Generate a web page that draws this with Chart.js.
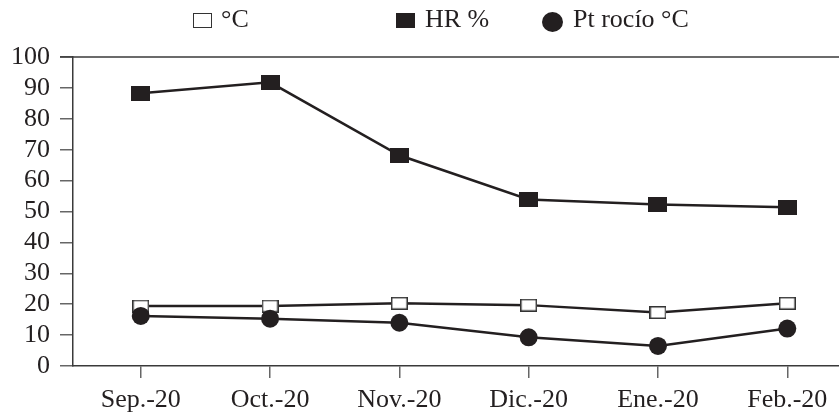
<!DOCTYPE html>
<html lang="es">
<head>
    <meta charset="UTF-8">
    <title>Temperatura, HR y punto de rocío</title>
    <style>
        body { margin: 0; background: #fff; }
        #wrap { position: relative; width: 839px; height: 412px; }
        #legend { position: absolute; left: 0; top: 0; width: 839px; height: 40px;
                  font-family: "Liberation Serif", "Times New Roman", serif; font-size: 26px; color: #231f20; }
        #legend .txt { position: absolute; top: 4px; line-height: 30px; white-space: nowrap; }
        #legend .sym { position: absolute; box-sizing: border-box; }
    </style>
</head>
<body>

    <div id="wrap">
        <canvas id="chart"></canvas>
        <div id="legend"></div>
    </div>

    <script src="https://cdn.jsdelivr.net/npm/chart.js"></script>
    <script>
        // Datos
        const meses = ['Sep.-20', 'Oct.-20', 'Nov.-20', 'Dic.-20', 'Ene.-20', 'Feb.-20'];
        const temperatura = [19.4, 19.4, 20.3, 19.7, 17.3, 20.3];
        const humedad = [88.3, 91.8, 68.2, 53.9, 52.3, 51.4];
        const rocio = [16.2, 15.3, 14.0, 9.3, 6.5, 12.1];
        const yTicks = [0, 10, 20, 30, 40, 50, 60, 70, 80, 90, 100];

        const etiquetas = ['°C', 'HR %', 'Pt rocío °C'];

        const ink = '#231f20';
        const toXY = arr => arr.map((v, i) => ({ x: i, y: v }));

        // marcadores rectangulares (un poco más anchos que altos)
        function marcador(w, h, fill, stroke, lw) {
            const c = document.createElement('canvas');
            c.width = w; c.height = h;
            const g = c.getContext('2d');
            g.fillStyle = stroke;
            g.fillRect(0, 0, w, h);
            if (fill !== stroke) {
                g.fillStyle = fill;
                g.fillRect(lw, lw, w - 2 * lw, h - 2 * lw);
            }
            return c;
        }
        const cuadroBlanco = marcador(17, 13, '#fff', '#333', 1.5);
        const cuadroNegro = marcador(19, 15, ink, ink, 0);

        // línea superior del marco
        const topLine = {
            id: 'topLine',
            afterDraw(chart) {
                const { ctx, chartArea } = chart;
                ctx.save();
                ctx.strokeStyle = '#3a3a3a';
                ctx.lineWidth = 1.5;
                ctx.beginPath();
                ctx.moveTo(chartArea.left - 13, chartArea.top);
                ctx.lineTo(chart.width, chartArea.top);
                ctx.stroke();
                ctx.restore();
            }
        };

        const fuente = { family: '"Liberation Serif", "Times New Roman", serif', size: 26 };

        const ctx = document.getElementById('chart').getContext('2d');
        const chart = new Chart(ctx, {
            type: 'line',
            data: {
                datasets: [{
                    label: etiquetas[0],
                    data: toXY(temperatura),
                    borderColor: ink,
                    borderWidth: 2.5,
                    pointStyle: cuadroBlanco,
                    order: 1
                }, {
                    label: etiquetas[1],
                    data: toXY(humedad),
                    borderColor: ink,
                    borderWidth: 2.5,
                    pointStyle: cuadroNegro,
                    order: 1
                }, {
                    label: etiquetas[2],
                    data: toXY(rocio),
                    borderColor: ink,
                    borderWidth: 2.5,
                    pointStyle: 'circle',
                    pointRadius: 9,
                    pointBackgroundColor: ink,
                    pointBorderColor: ink,
                    pointBorderWidth: 0,
                    order: 0
                }]
            },
            options: {
                responsive: true,
                maintainAspectRatio: false,
                animation: false,
                layout: { autoPadding: false, padding: { top: 57, left: 0, right: 0, bottom: 0 } },
                plugins: {
                    legend: { display: false },
                    tooltip: { enabled: false }
                },
                scales: {
                    x: {
                        type: 'linear',
                        min: -0.524,
                        max: 5.40,
                        afterBuildTicks: s => { s.ticks = meses.map((m, i) => ({ value: i })); },
                        afterFit: s => { s.height = 46; s.paddingLeft = 0; s.paddingRight = 0; },
                        border: { color: '#3a3a3a', width: 1.5 },
                        grid: { drawOnChartArea: false, drawTicks: true, tickLength: 12, color: '#666', lineWidth: 1.5 },
                        ticks: {
                            autoSkip: false,
                            maxRotation: 0,
                            padding: 7,
                            color: ink,
                            font: fuente,
                            callback: v => meses[v]
                        }
                    },
                    y: {
                        min: 0,
                        max: 100,
                        afterBuildTicks: s => { s.ticks = yTicks.map(v => ({ value: v })); },
                        afterFit: s => { s.width = 73; s.paddingTop = 0; s.paddingBottom = 0; },
                        border: { color: '#3a3a3a', width: 1.5 },
                        grid: { drawOnChartArea: false, drawTicks: true, tickLength: 13, color: '#666', lineWidth: 1.5 },
                        ticks: {
                            autoSkip: false,
                            padding: 10,
                            color: ink,
                            font: fuente
                        }
                    }
                }
            },
            plugins: [topLine]
        });

        // leyenda: símbolo + texto
        const legend = document.getElementById('legend');
        const simbolos = [
            { left: 193, top: 13, w: 19, h: 15, css: 'border:1.5px solid #333;background:#fff;' },
            { left: 396, top: 13, w: 19, h: 15, css: 'background:' + ink + ';' },
            { left: 542, top: 12, w: 21, h: 20, css: 'background:' + ink + ';border-radius:50%;' }
        ];
        const textoX = [221, 425, 573];
        chart.data.datasets.forEach((ds, i) => {
            const m = simbolos[i];
            const sym = document.createElement('div');
            sym.className = 'sym';
            sym.style.cssText = `left:${m.left}px;top:${m.top}px;width:${m.w}px;height:${m.h}px;` + m.css;
            legend.appendChild(sym);
            const t = document.createElement('span');
            t.className = 'txt';
            t.style.left = textoX[i] + 'px';
            t.textContent = ds.label;
            legend.appendChild(t);
        });
    </script>

</body>
</html>
